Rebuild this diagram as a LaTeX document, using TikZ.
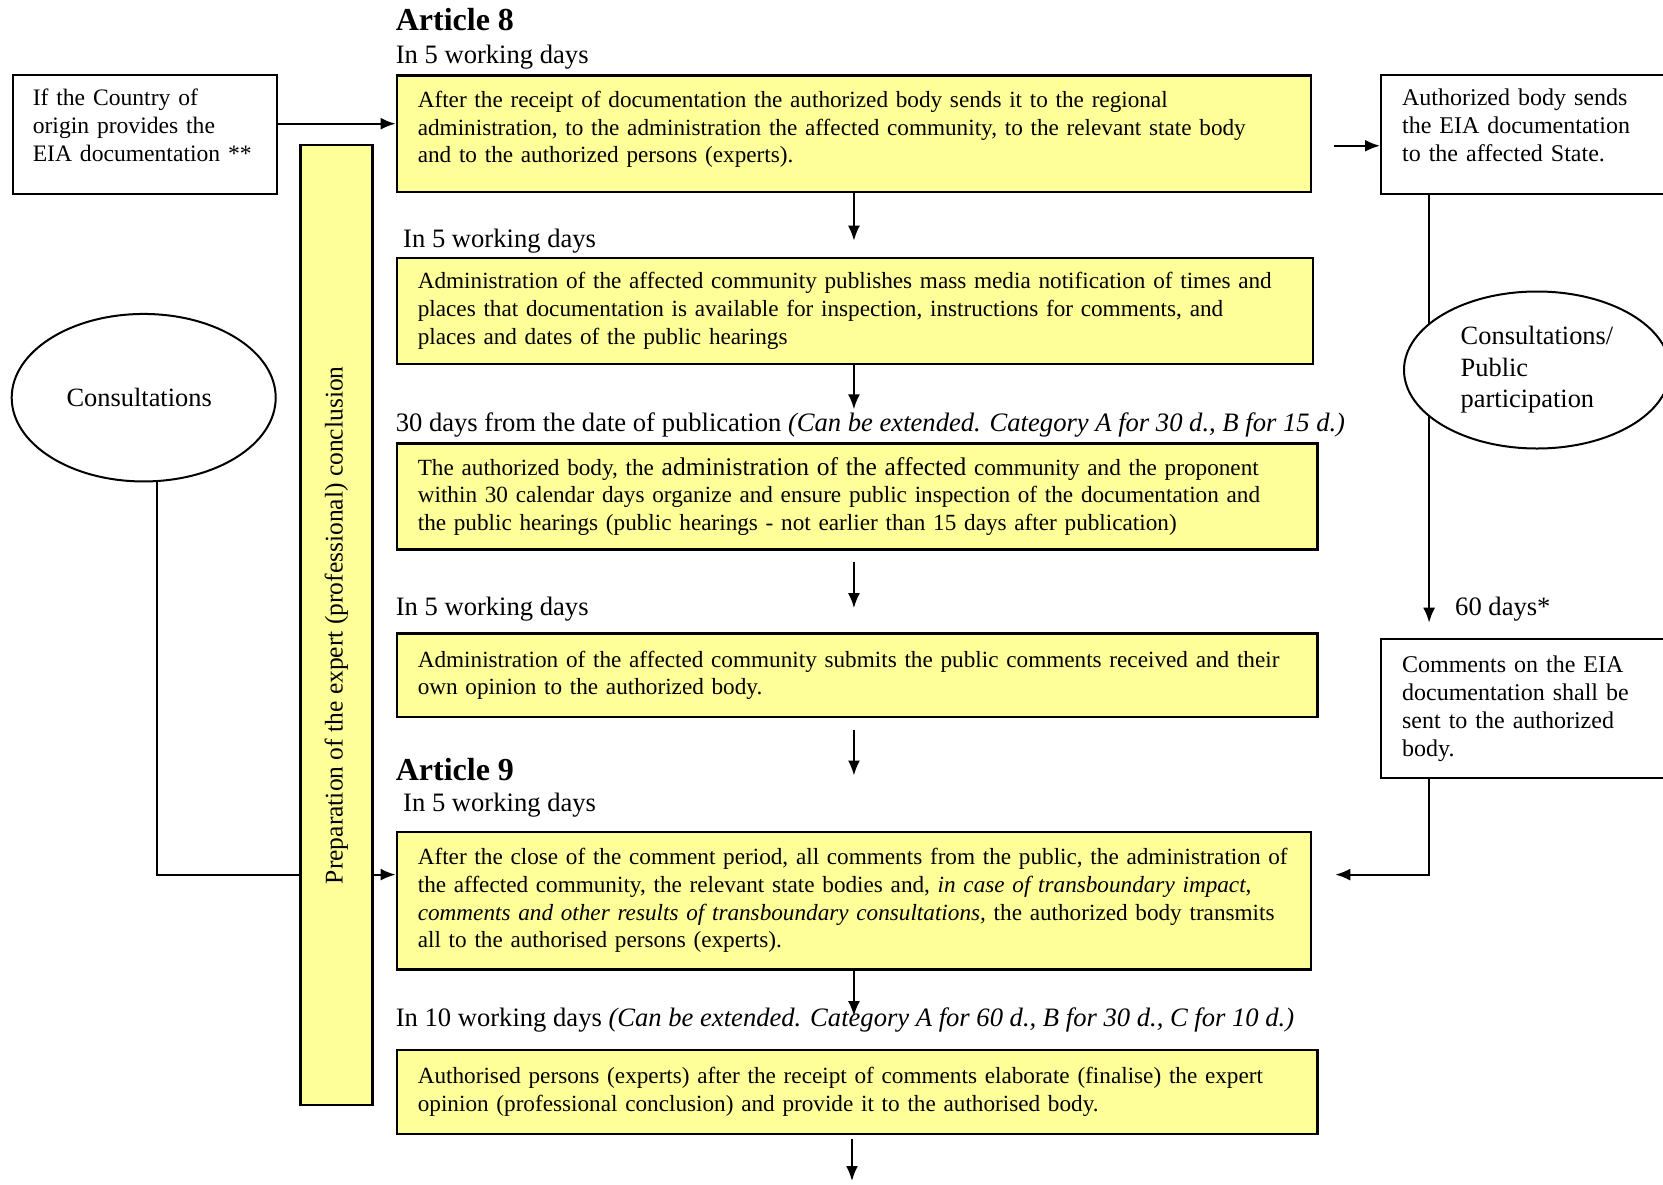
\documentclass[tikz,border=0pt]{standalone}
\usepackage{fontspec}
\setmainfont{Liberation Serif}
\usetikzlibrary{arrows.meta,shapes.geometric}

\definecolor{boxyellow}{HTML}{FFFF99}
\hyphenpenalty=10000
\exhyphenpenalty=10000

\tikzset{
  ybox/.style={draw, fill=boxyellow, line width=2.4pt, align=left, inner xsep=21pt, inner ysep=6pt, text width=#1, anchor=north west, font=\fontsize{23.2}{27.6}\selectfont},
  wbox/.style={draw, fill=white, line width=2.2pt, align=left, inner xsep=20pt, inner ysep=6pt, text width=#1, anchor=north west},
  cloud/.style={draw, fill=white, ellipse, line width=2pt, inner sep=0pt, font=\fontsize{26.4}{31.5}\selectfont},
  lbl/.style={anchor=west, inner sep=0pt, font=\fontsize{26.6}{30}\selectfont},
  arttitle/.style={anchor=west, inner sep=0pt, font=\fontsize{32}{36}\selectfont\bfseries},
  conn/.style={line width=2pt},
  arr/.style={line width=2pt, -{Latex[length=15pt,width=12pt]}}
}

\begin{document}
\begin{tikzpicture}[x=1pt, y=-1pt, font=\fontsize{24}{28}\selectfont]
	\useasboundingbox (0,0) rectangle (1663,1184);
	\clip (0,0) rectangle (1663,1184);

	% Article 8
	\node[arttitle] (art8) at (395.6,20) {Article 8};
	\node[lbl] (t1) at (395.6,57) {In 5 working days};

	\node[wbox=224, font=\fontsize{23.6}{28}\selectfont, text depth=76pt, minimum height=118.8pt] (origin) at (11.7,74.2)
		{If the Country of\\origin provides the\\EIA documentation **};

	\node[ybox=872.3, text depth=68.6pt, minimum height=116.7pt] (boxA) at (395.6,74.2)
		{After the receipt of documentation the authorized body sends it to the regional\\administration, to the administration the affected community, to the relevant state body\\and to the authorized persons (experts).};

	\node[wbox=258, inner xsep=21pt, text depth=76pt, minimum height=118.8pt] (sendState) at (1380,74.2)
		{Authorized body sends\\the EIA documentation\\to the affected State.};

	\node[lbl] (t2) at (403,241.5) {In 5 working days};
	\node[ybox=874.4, minimum height=106pt] (boxB) at (395.6,256.7)
		{Administration of the affected community publishes mass media notification of times and\\places that documentation is available for inspection, instructions for comments, and\\places and dates of the public hearings};

	\node[lbl] (t3) at (395.6,424.5) {30 days from the date of publication \textit{(Can be extended. Category A for 30 d., B for 15 d.)}};
	\node[ybox=878.7, minimum height=106pt] (boxC) at (395.6,442.3)
		{The authorized body, the {\fontsize{25.5}{27.6}\selectfont administration of the affected} community and the proponent\\within 30 calendar days organize and ensure public inspection of the documentation and\\the public hearings (public hearings - not earlier than 15 days after publication)};

	\node[lbl] (t4) at (395.6,609.5) {In 5 working days};
	\node[ybox=878.7, minimum height=83.8pt] (boxD) at (395.6,632.1)
		{Administration of the affected community submits the public comments received and their\\own opinion to the authorized body.};

	% Article 9
	\node[arttitle] (art9) at (395.6,770) {Article 9};
	\node[lbl] (t5) at (403,805.5) {In 5 working days};
	\node[ybox=872.3, minimum height=137.8pt] (boxE) at (395.6,830.5)
		{After the close of the comment period, all comments from the public, the administration of\\the affected community, the relevant state bodies and, \textit{in case of transboundary impact},\\\textit{comments and other results of transboundary consultations,} the authorized body transmits\\all to the authorised persons (experts).};

	\node[lbl] (t6) at (395.6,1019.5) {In 10 working days \textit{(Can be extended. Category A for 60 d., B for 30 d., C for 10 d.)}};
	\node[ybox=878.7, minimum height=83.7pt] (boxF) at (395.6,1049)
		{Authorised persons (experts) after the receipt of comments elaborate (finalise) the expert\\opinion (professional conclusion) and provide it to the authorised body.};

	% expert conclusion bar
	\node[draw, fill=boxyellow, line width=2.4pt, inner sep=0pt, minimum width=72pt, minimum height=960pt, font=\fontsize{25.5}{28}\selectfont] (expert) at (336.3,625.2)
		{\rotatebox{90}{Preparation of the expert (professional) conclusion}};

	% transboundary side
	\node[wbox=258, inner xsep=21pt, minimum height=139pt] (stateComments) at (1380,637.7)
		{Comments on the EIA\\documentation shall be\\sent to the authorized\\body.};
	\node[lbl] (t7) at (1455,609.5) {60 days*};

	\draw[arr] ([xshift=-102pt]sendState.south) -- ([xshift=-102pt,yshift=15pt]stateComments.north);
	\node[cloud, align=left, minimum width=266pt, minimum height=157pt] (publicPart) at (1537,370)
		{Consultations/\\Public\\participation};

	\node[cloud, minimum width=264pt, minimum height=167.5pt] (cons) at (143.7,397.7) {Consultations\hspace*{9pt}};

	% connectors
	\draw[arr] ([yshift=11pt]origin.east) -- ([yshift=11pt]origin.east -| boxA.west);
	\draw[arr] ([xshift=22pt,yshift=-12pt]boxA.east) -- ([yshift=-12pt]boxA.east -| sendState.west);

	\draw[arr] (boxA.south) -- ([yshift=16pt]boxB.north -| boxA.south);
	\draw[arr] (boxB.south -| boxA.south) -- ([yshift=33pt]boxC.north -| boxA.south);
	\draw[arr] ([yshift=-11pt]boxC.south -| boxA.south) -- ([yshift=24pt]boxD.north -| boxA.south);
	\draw[arr] ([yshift=-12pt]boxD.south -| boxA.south) -- ([yshift=55pt]boxE.north -| boxA.south);
	\draw[arr] (boxE.south) -- ([yshift=33pt]boxF.north -| boxE.south);
	\coordinate (next) at (852,1181);
	\draw[arr] ([yshift=-4pt]boxF.south -| next) -- (next);

	\draw[conn] ([xshift=13pt]cons.south) |- ([yshift=26pt]boxE.west -| expert.west);
	\draw[arr] ([yshift=26pt]boxE.west -| expert.east) -- ([yshift=26pt]boxE.west);
	\draw[arr] ([xshift=-102pt]stateComments.south) |- ([xshift=23pt,yshift=26pt]boxE.east);
\end{tikzpicture}
\end{document}
